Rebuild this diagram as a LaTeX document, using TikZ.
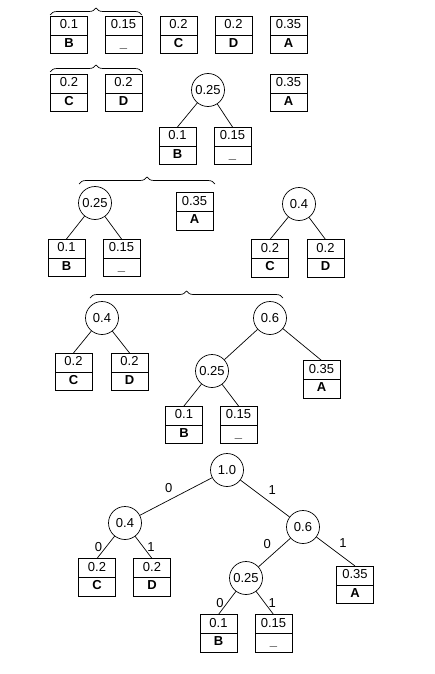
\documentclass[tikz,border=0pt]{standalone}
\usepackage{fontspec}
\setmainfont{Liberation Sans}
\usetikzlibrary{shapes.multipart, decorations.pathreplacing}

\newcommand{\lfst}{\rule[-4pt]{0pt}{14pt}}
\newcommand{\rec}[2]{\lfst #1\nodepart{two}\lfst\textbf{#2}}

\tikzset{
	leaf/.style={draw, rectangle split, rectangle split parts=2, minimum width=37pt,
		inner xsep=2pt, inner ysep=2pt},
	sum/.style={draw, circle, minimum size=33pt, inner sep=0pt},
	brc/.style={decorate, decoration={brace, amplitude=7pt}},
}

\begin{document}
\begin{tikzpicture}[x=1pt, y=-1pt, line width=0.7pt, font=\fontsize{13}{15}\selectfont]
	\useasboundingbox (0, 0) rectangle (434, 674);

	% step 1
	\node[leaf] (b1) at (69, 35) {\rec{0.1}{B}};
	\node[leaf] (u1) at (123.5, 35) {\rec{0.15}{\_}};
	\node[leaf] (c1) at (178.5, 35) {\rec{0.2}{C}};
	\node[leaf] (d1) at (233.5, 35) {\rec{0.2}{D}};
	\node[leaf] (a1) at (288.5, 35) {\rec{0.35}{A}};
	\draw[brc] (50, 15) -- (142, 15);

	% step 2
	\node[leaf] (c2) at (69, 93) {\rec{0.2}{C}};
	\node[leaf] (d2) at (123.5, 93) {\rec{0.2}{D}};
	\node[leaf] (a2) at (288.5, 93) {\rec{0.35}{A}};
	\node[sum] (s2) at (208, 90) {0.25};
	\node[leaf] (b2) at (177.5, 146) {\rec{0.1}{B}};
	\node[leaf] (u2) at (232.5, 146) {\rec{0.15}{\_}};
	\draw (s2) -- (b2.north);
	\draw (s2) -- (u2.north);
	\draw[brc] (50, 72) -- (142, 72);

	% step 3
	\node[sum] (s3) at (95, 203) {0.25};
	\node[leaf] (a3) at (194.5, 211.5) {\rec{0.35}{A}};
	\node[leaf] (b3) at (66.5, 258) {\rec{0.1}{B}};
	\node[leaf] (u3) at (121.5, 258) {\rec{0.15}{\_}};
	\node[sum] (f3) at (299, 204) {0.4};
	\node[leaf] (c3) at (270, 258.5) {\rec{0.2}{C}};
	\node[leaf] (d3) at (325.5, 258.5) {\rec{0.2}{D}};
	\draw (s3) -- (b3.north);
	\draw (s3) -- (u3.north);
	\draw (f3) -- (c3.north);
	\draw (f3) -- (d3.north);
	\draw[brc] (79, 184) -- (215, 184);

	% step 4
	\node[sum] (f4) at (102, 318) {0.4};
	\node[leaf] (c4) at (73.5, 372) {\rec{0.2}{C}};
	\node[leaf] (d4) at (129.5, 372) {\rec{0.2}{D}};
	\node[sum] (x4) at (270, 318) {0.6};
	\node[sum] (s4) at (212, 371) {0.25};
	\node[leaf] (a4) at (321.5, 379.5) {\rec{0.35}{A}};
	\node[leaf] (b4) at (184, 425) {\rec{0.1}{B}};
	\node[leaf] (u4) at (238.5, 425) {\rec{0.15}{\_}};
	\draw (f4) -- (c4.north);
	\draw (f4) -- (d4.north);
	\draw (x4) -- (s4);
	\draw (x4) -- (a4.north);
	\draw (s4) -- (b4.north);
	\draw (s4) -- (u4.north);
	\draw[brc] (90, 298) -- (283, 298);

	% final tree
	\node[sum] (r5) at (227, 470) {1.0};
	\node[sum] (f5) at (125, 523) {0.4};
	\node[sum] (x5) at (303, 527) {0.6};
	\node[leaf] (c5) at (97, 577.5) {\rec{0.2}{C}};
	\node[leaf] (d5) at (152, 577.5) {\rec{0.2}{D}};
	\node[sum] (s5) at (246, 578) {0.25};
	\node[leaf] (a5) at (355, 585) {\rec{0.35}{A}};
	\node[leaf] (b5) at (218.5, 633.5) {\rec{0.1}{B}};
	\node[leaf] (u5) at (273.5, 633.5) {\rec{0.15}{\_}};

	\draw (r5) -- node[above left] {0} (f5);
	\draw (r5) -- node[above right] {1} (x5);
	\draw (f5) -- node[left] {0} (c5.north);
	\draw (f5) -- node[right] {1} (d5.north);
	\draw (x5) -- node[above left] {0} (s5);
	\draw (x5) -- node[above right] {1} (a5.north);
	\draw (s5) -- node[left] {0} (b5.north);
	\draw (s5) -- node[right] {1} (u5.north);

\end{tikzpicture}
\end{document}
